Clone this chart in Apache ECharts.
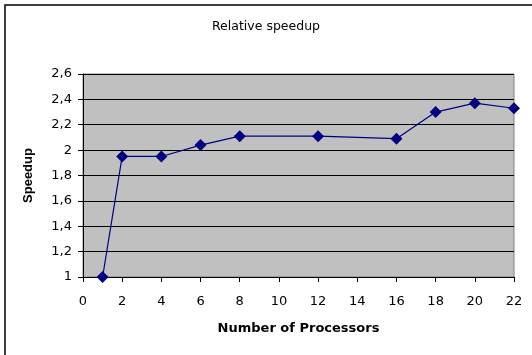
<!DOCTYPE html>
<html>
<head>
<meta charset="utf-8">
<script src="https://cdn.jsdelivr.net/npm/echarts@6/dist/echarts.min.js"></script>
<style>
  html, body { margin: 0; padding: 0; background: #fff; }
  #chart { width: 532px; height: 355px; }
</style>
</head>
<body>
<div id="chart"></div>
<script>
// Processor counts and measured relative speedup
const processors = [1, 2, 4, 6, 8, 12, 16, 18, 20, 22];
const speedup = [1.0, 1.95, 1.95, 2.04, 2.11, 2.11, 2.09, 2.30, 2.37, 2.33];
const xTicks = [0, 2, 4, 6, 8, 10, 12, 14, 16, 18, 20, 22];
const yTicks = [1, 1.2, 1.4, 1.6, 1.8, 2, 2.2, 2.4, 2.6];

const WIDE = '"DejaVu Sans", sans-serif';
const NARROW = '"Liberation Sans", Arial, sans-serif';
const chart = echarts.init(document.getElementById('chart'), null, { renderer: 'canvas' });

chart.setOption({
  animation: false,
  backgroundColor: '#ffffff',
  title: {
    text: 'Relative speedup',
    left: 'center',
    top: 15,
    textStyle: { fontFamily: WIDE, fontSize: 12.5, fontWeight: 'normal', color: '#000' }
  },
  graphic: [{
    type: 'rect',
    shape: { x: 5, y: 5, width: 540, height: 370 },
    style: { fill: 'none', stroke: '#000', lineWidth: 1.5 },
    silent: true
  }],
  grid: {
    left: 83, right: 18, top: 74, bottom: 78,
    show: true,
    backgroundColor: '#c0c0c0',
    borderColor: '#808080',
    borderWidth: 1
  },
  xAxis: {
    type: 'value',
    min: xTicks[0],
    max: xTicks[xTicks.length - 1],
    interval: 2,
    name: 'Number of Processors',
    nameLocation: 'middle',
    nameGap: 45,
    nameTextStyle: { fontFamily: WIDE, fontSize: 13, fontWeight: 'bold', color: '#000' },
    axisLine: { show: true, lineStyle: { color: '#000', width: 1 } },
    axisTick: { show: true, inside: false, length: 5, lineStyle: { color: '#000' } },
    axisLabel: { fontFamily: WIDE, fontSize: 13, color: '#000', margin: 18 },
    splitLine: { show: false }
  },
  yAxis: {
    type: 'value',
    min: yTicks[0],
    max: yTicks[yTicks.length - 1],
    interval: 0.2,
    name: 'Speedup',
    nameLocation: 'middle',
    nameRotate: 90,
    nameGap: 48,
    nameTextStyle: { fontFamily: NARROW, fontSize: 13, fontWeight: 'bold', color: '#000' },
    axisLine: { show: true, lineStyle: { color: '#000', width: 1 } },
    axisTick: { show: true, inside: false, length: 5, lineStyle: { color: '#000' } },
    axisLabel: {
      fontFamily: WIDE, fontSize: 13, color: '#000', margin: 11,
      formatter: v => String(Math.round(v * 10) / 10).replace('.', ',')
    },
    splitLine: { show: true, lineStyle: { color: '#000', width: 1 } }
  },
  series: [{
    type: 'line',
    data: processors.map((p, i) => [p, speedup[i]]),
    symbol: 'diamond',
    symbolSize: 12,
    lineStyle: { color: '#000080', width: 1.2 },
    itemStyle: { color: '#000080' }
  }]
});
</script>
</body>
</html>
